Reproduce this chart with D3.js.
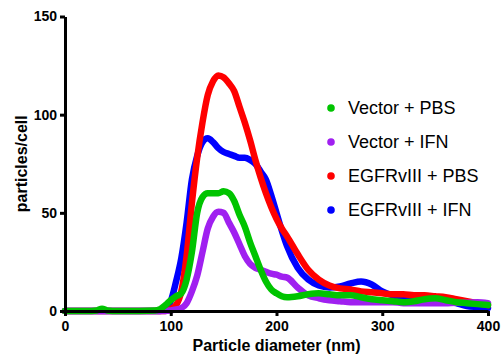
<!DOCTYPE html>
<html>
<head>
<meta charset="utf-8">
<script src="https://cdn.jsdelivr.net/npm/d3@7"></script>
<style>
    body { margin: 0; background: #fff; }
    text { font-family: "Liberation Sans", Arial, sans-serif; }
</style>
</head>
<body>
<div id="chart"></div>
<script>
// diâmetros (nm) comuns a todas as séries
const diameters = [0, 20, 30, 35, 40, 50, 70, 85, 90, 95, 100, 105, 110, 115, 120, 125, 130, 135, 140, 145, 150, 155, 160, 165, 170, 175, 180, 185, 190, 195, 200, 205, 210, 220, 230, 240, 250, 260, 270, 280, 290, 300, 310, 320, 330, 340, 350, 360, 370, 380, 390, 400];

const vectorPBS = [0, 0, 0.3, 1.2, 0.3, 0, 0, 0.2, 1, 3, 5.5, 7.5, 9, 16, 30, 50, 58, 60, 60, 60, 61, 60, 56, 49, 43, 35, 28, 21, 15, 11, 9, 7.5, 7, 7.5, 8.5, 9, 8.5, 8, 8, 7, 6, 5.5, 5, 4.5, 5, 6, 6.5, 5.5, 4.5, 4, 3.5, 3];
const vectorIFN = [0, 0, 0, 0, 0, 0, 0, 0, 0, 0, 0.3, 0.8, 1.5, 4, 10, 18, 30, 42, 48, 50.5, 50, 45, 40, 34, 28, 24, 22, 21, 20, 19, 18.5, 17.5, 17, 12, 8, 6.5, 5.5, 5, 4.5, 4.5, 4.5, 4.5, 4.5, 4, 4, 4, 4, 4, 4.2, 4.2, 4.5, 4];
const egfrPBS = [0, 0, 0, 0, 0, 0, 0, 0, 0, 0, 1, 3, 10, 28, 55, 78, 96, 110, 117, 120, 119, 116, 112, 104, 96, 87, 77, 68, 60, 53, 47, 42, 38, 29, 21, 16, 13, 11.5, 11, 10, 9.5, 9, 8.5, 8.5, 8, 8, 7.5, 7, 6, 5, 4, 3];
const egfrIFN = [0, 0, 0, 0, 0, 0, 0, 0, 0, 1, 5, 15, 27, 45, 67, 79, 86, 88, 86, 83, 81, 80, 79, 78, 78, 77, 75, 71, 67, 59, 50, 41, 33, 22, 16, 13, 12, 12.5, 14, 15, 13.5, 10, 8, 7, 6.5, 6, 6, 5.5, 4, 2.5, 2, 1.5];

const seriesNames = ["Vector + PBS", "Vector + IFN", "EGFRvIII + PBS", "EGFRvIII + IFN"];
const seriesColors = ["#00c400", "#a020f0", "#ff0000", "#0000ff"];
const seriesValues = [vectorPBS, vectorIFN, egfrPBS, egfrIFN];

const xTicks = [0, 100, 200, 300, 400];
const yTicks = [0, 50, 100, 150];

const width = 504, height = 364;

const svg = d3.select("#chart").append("svg")
    .attr("width", width)
    .attr("height", height);

const x = d3.scaleLinear().domain([0, 400]).range([65, 488]);
const y = d3.scaleLinear().domain([0, 150]).range([311, 16.5]);

// curvas (ordem de desenho: azul, vermelho, roxo, verde por cima)
const line = d3.line()
    .x((d, i) => x(diameters[i]))
    .y(d => y(d))
    .curve(d3.curveMonotoneX);

[3, 2, 1, 0].forEach(k => {
    svg.append("path")
        .datum(seriesValues[k])
        .attr("d", line)
        .attr("fill", "none")
        .attr("stroke", seriesColors[k])
        .attr("stroke-width", 6.5)
        .attr("stroke-linejoin", "round")
        .attr("stroke-linecap", "round");
});

// eixos
const xAxis = svg.append("g")
    .attr("transform", `translate(0,${y(0)})`)
    .call(d3.axisBottom(x).tickValues(xTicks).tickSize(5).tickPadding(5).tickSizeOuter(0));
const yAxis = svg.append("g")
    .attr("transform", `translate(${x(0)},0)`)
    .call(d3.axisLeft(y).tickValues(yTicks).tickSize(5).tickPadding(3).tickSizeOuter(0));

[xAxis, yAxis].forEach(g => {
    g.select(".domain").attr("stroke", "#000").attr("stroke-width", 3);
    g.selectAll(".tick line").attr("stroke", "#000").attr("stroke-width", 3);
    g.selectAll(".tick text")
        .attr("fill", "#000")
        .style("font-family", "'Liberation Sans', Arial, sans-serif")
        .style("font-size", "14px")
        .style("font-weight", "bold");
});

svg.append("text")
    .attr("x", (x(0) + x(400)) / 2)
    .attr("y", 351)
    .attr("text-anchor", "middle")
    .style("font-size", "16px")
    .style("font-weight", "bold")
    .text("Particle diameter (nm)");

svg.append("text")
    .attr("transform", `translate(27,${(y(0) + y(150)) / 2}) rotate(-90)`)
    .attr("text-anchor", "middle")
    .style("font-size", "16px")
    .style("font-weight", "bold")
    .text("particles/cell");

// legenda
const legend = svg.append("g").attr("transform", "translate(331,108)");
seriesNames.forEach((name, i) => {
    const row = legend.append("g").attr("transform", `translate(0,${i * 34})`);
    row.append("circle").attr("r", 3.8).attr("fill", seriesColors[i]);
    row.append("text")
        .attr("x", 17)
        .attr("dy", "0.35em")
        .style("font-size", "18px")
        .text(name);
});
</script>
</body>
</html>
